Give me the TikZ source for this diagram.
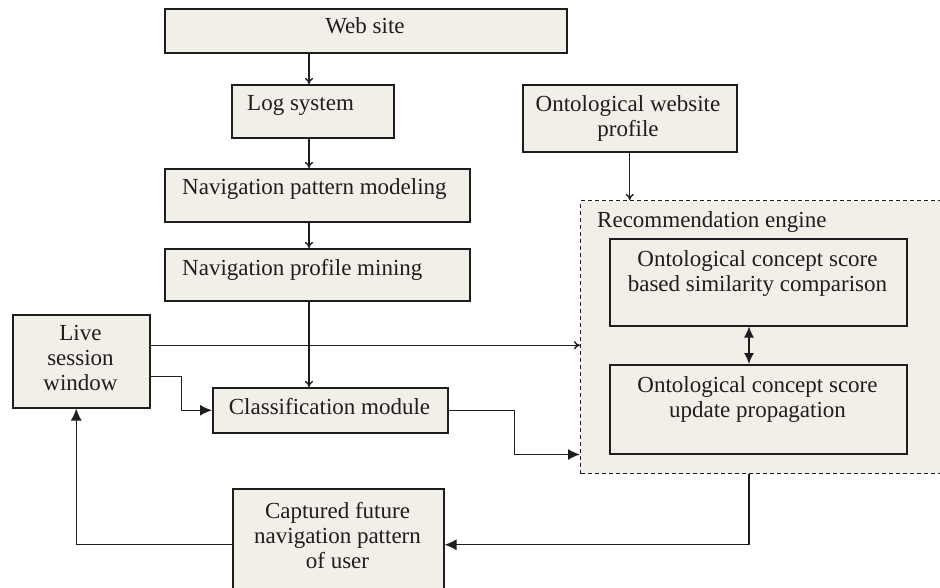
\documentclass[tikz,border=0pt]{standalone}
\usepackage{fontspec}
\setmainfont{Liberation Serif}
\usetikzlibrary{arrows.meta}
\definecolor{boxfill}{RGB}{242,238,232}
\definecolor{ink}{RGB}{30,30,30}

\begin{document}
\begin{tikzpicture}[x=1pt, y=-1pt, font=\fontsize{23}{25}\selectfont,
    box/.style={draw=ink, line width=1.5pt, fill=boxfill, inner sep=0pt, anchor=north west},
    txt/.style={inner sep=0pt, text=ink, align=center},
    link/.style={draw=ink, line width=1.4pt},
    thin arrow/.style={link, -{To[length=6pt,width=8pt]}},
    fat arrow/.style={link, -{Latex[length=12pt,width=11pt]}}]
  \useasboundingbox (0,0) rectangle (940,587);
  \clip (0,0) rectangle (940,587);
  \fill[white] (0,0) rectangle (940,587);

% left column
\node[box, minimum width=402, minimum height=44] (web) at (164,8) {};
\node[box, minimum width=162, minimum height=53] (log) at (231,84) {};
\node[box, minimum width=305, minimum height=53] (npm) at (164,168) {};
\node[box, minimum width=305, minimum height=52] (npr) at (164,248) {};
\node[box, minimum width=137, minimum height=93] (live) at (12,314) {};
\node[box, minimum width=235, minimum height=45] (cls) at (212,387) {};
\node[box, minimum width=211, minimum height=112] (cap) at (232,488) {};

% right column
\node[box, minimum width=214, minimum height=67] (onto) at (522,84) {};
\node[box, dash pattern=on 4pt off 3pt, line width=1.4pt, minimum width=380, minimum height=273] (engine) at (580,200) {};
\node[box, minimum width=297, minimum height=87] (sim) at (609,238) {};
\node[box, minimum width=297, minimum height=89] (upd) at (609,364) {};

% texts
\node[txt, anchor=base] (webtxt) at (365,33) {Web site};
\node[txt, anchor=base west] (logtxt) at (247,110) {Log system};
\node[txt, anchor=base west] (npmtxt) at (182,194) {Navigation pattern modeling};
\node[txt, anchor=base west] (nprtxt) at (182,275) {Navigation profile mining};
\node[txt, anchor=north] (livetxt) at (80.5,325) {Live\\session\\window};
\node[txt, anchor=base] (clstxt) at (329.5,414) {Classification module};
\node[txt, anchor=north] (captxt) at (337.5,502) {Captured future\\navigation pattern\\of user};
\node[txt, anchor=north] (ontotxt) at (628,95) {Ontological website\\profile};
\node[txt, anchor=base west] (enginetxt) at (597,227) {Recommendation engine};
\node[txt, anchor=north] (simtxt) at (757.5,250) {Ontological concept score\\based similarity comparison};
\node[txt, anchor=north] (updtxt) at (757.5,376) {Ontological concept score\\update propagation};

\coordinate (spine) at (309,0);
\coordinate (drop) at (749,0);

\foreach \a/\b in {web/log, log/npm, npm/npr, npr/cls}
{
    \draw[thin arrow] (\a.south -| spine) -- (\b.north -| spine);
}
\draw[thin arrow] (onto.south) -- (onto.south |- engine.north);
\draw[thin arrow] ([yshift=16pt]live.east) -- ([yshift=16pt]live.east -| engine.west);

\draw[fat arrow] ([yshift=-15pt]live.east) -- ++(31,0) |- (cls.west);
\draw[fat arrow] (cls.east) -- ++(66,0) |- (engine.west |- upd.south);
\draw[fat arrow] (engine.south -| drop) |- (cap.east);
\draw[fat arrow] (cap.west) -| ([xshift=-5pt]live.south);
\draw[link, {Latex[length=11pt,width=10pt]}-{Latex[length=11pt,width=10pt]}] (sim.south -| drop) -- (upd.north -| drop);
\end{tikzpicture}
\end{document}
